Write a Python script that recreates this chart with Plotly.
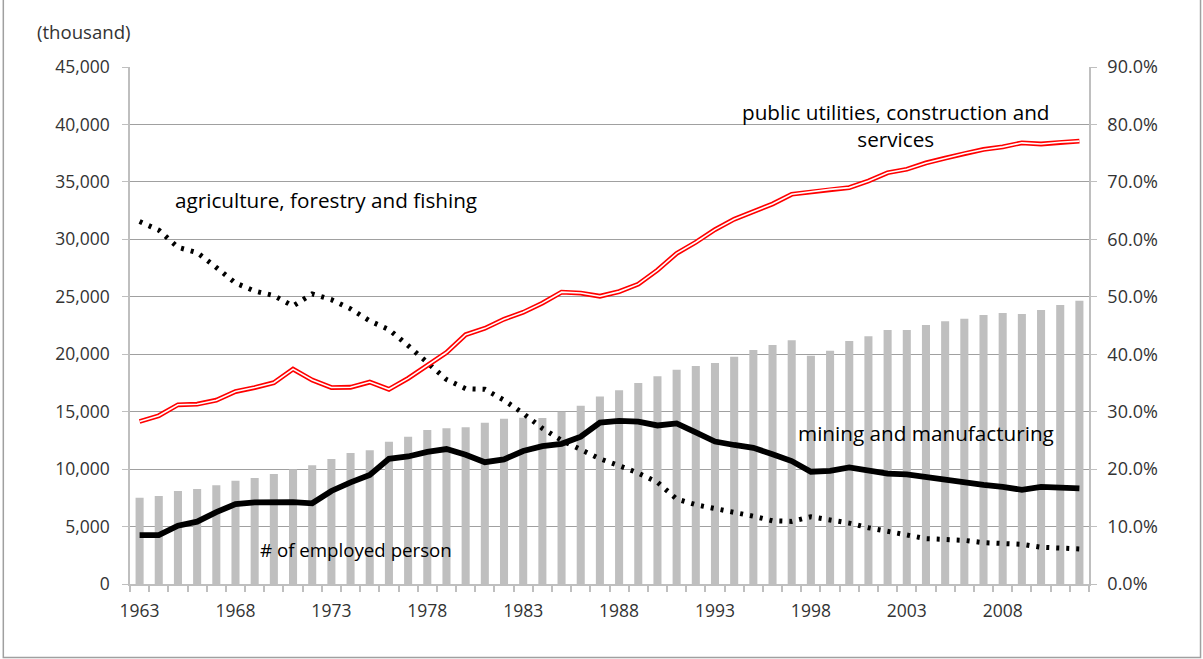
import plotly.graph_objects as go

years = list(range(1963, 2013))

employed = [7500, 7660, 8095, 8270, 8590, 8990, 9230, 9575, 9980, 10330,
            10880, 11400, 11640, 12390, 12820, 13400, 13550, 13640, 14040, 14390,
            14480, 14450, 15000, 15520, 16330, 16860, 17500, 18080, 18650, 18975,
            19235, 19785, 20370, 20800, 21220, 19870, 20310, 21150, 21560, 22110,
            22110, 22540, 22860, 23090, 23410, 23590, 23500, 23850, 24280, 24660]

agriculture = [63.1, 61.6, 58.6, 57.7, 55.1, 52.4, 51.0, 50.2, 48.4, 50.5,
               49.5, 47.9, 45.8, 44.3, 41.5, 38.6, 35.6, 34.0, 33.9, 32.0,
               29.7, 27.1, 25.0, 23.4, 21.8, 20.6, 19.3, 17.7, 14.8, 13.8,
               13.2, 12.4, 11.8, 11.0, 10.9, 11.7, 11.2, 10.6, 9.8, 9.2,
               8.7, 7.9, 7.75, 7.6, 7.2, 7.0, 6.9, 6.4, 6.2, 6.1]

mining = [8.5, 8.5, 10.15, 10.85, 12.5, 13.9, 14.2, 14.27, 14.27, 14.05,
          16.2, 17.7, 19.0, 21.8, 22.2, 23.0, 23.5, 22.5, 21.2, 21.7,
          23.15, 24.0, 24.4, 25.65, 28.1, 28.4, 28.25, 27.6, 27.95, 26.4,
          24.8, 24.2, 23.7, 22.6, 21.4, 19.55, 19.7, 20.3, 19.85, 19.2,
          19.1, 18.6, 18.05, 17.6, 17.25, 16.9, 16.4, 16.9, 16.9, 16.65]

services = [28.3, 29.3, 31.2, 31.3, 32.0, 33.5, 34.2, 35.05, 37.4, 35.5,
            34.2, 34.25, 35.15, 33.9, 35.8, 38.1, 40.3, 43.4, 44.5, 46.1,
            47.3, 48.9, 50.8, 50.65, 50.1, 50.9, 52.2, 54.65, 57.55, 59.5,
            61.7, 63.5, 64.8, 66.15, 67.85, 68.3, 68.7, 69.0, 70.15, 71.6,
            72.2, 73.3, 74.15, 74.95, 75.65, 76.1, 76.8, 76.6, 76.9, 77.1]

label_years = [1963, 1968, 1973, 1978, 1983, 1988, 1993, 1998, 2003, 2008]
left_ticks = list(range(0, 45001, 5000))
right_ticks = list(range(0, 91, 10))

FONT = "Open Sans"
TICK_COLOR = "#333333"
GRID = "#A0A0A0"
AXIS = "#BFBFBF"
ANN = 20.7

fig = go.Figure()

fig.add_trace(go.Bar(x=years, y=employed, marker=dict(color="#BFBFBF", line=dict(width=0)),
                     width=0.42, name="# of employed person"))

fig.add_trace(go.Scatter(x=years, y=agriculture, yaxis="y2", mode="lines",
                         line=dict(color="black", width=5, dash="3px,7px"),
                         name="agriculture, forestry and fishing"))

fig.add_trace(go.Scatter(x=years, y=mining, yaxis="y2", mode="lines",
                         line=dict(color="black", width=5.8),
                         name="mining and manufacturing"))

fig.add_trace(go.Scatter(x=years, y=services, yaxis="y2", mode="lines",
                         line=dict(color="#FF0000", width=4.8),
                         name="public utilities, construction and services"))
fig.add_trace(go.Scatter(x=years, y=services, yaxis="y2", mode="lines",
                         line=dict(color="white", width=1.6),
                         showlegend=False, hoverinfo="skip"))

annotations = [
    dict(text="(thousand)", xref="paper", yref="paper", x=-0.099, y=1.0696,
         xanchor="left", yanchor="middle", showarrow=False,
         font=dict(size=18.6, color=TICK_COLOR, family=FONT)),
    dict(text="agriculture, forestry and fishing", xref="x", yref="y", x=1964.74, y=33424,
         xanchor="left", yanchor="middle", showarrow=False,
         font=dict(size=ANN, color="black", family=FONT)),
    dict(text="public utilities, construction and<br>services", xref="x", yref="y",
         x=2002.44, y=39950, xanchor="center", yanchor="middle", align="center",
         showarrow=False, font=dict(size=ANN, color="black", family=FONT)),
    dict(text="mining and manufacturing", xref="x", yref="y", x=1997.22, y=13143,
         xanchor="left", yanchor="middle", showarrow=False,
         font=dict(size=ANN, color="black", family=FONT)),
    dict(text="# of employed person", xref="x", yref="y", x=1969.17, y=3046,
         xanchor="left", yanchor="middle", showarrow=False,
         font=dict(size=18.7, color="black", family=FONT)),
]

fig.update_layout(
    width=1203, height=659,
    margin=dict(l=130, r=114, t=67, b=75),
    paper_bgcolor="white", plot_bgcolor="white",
    showlegend=False,
    font=dict(family=FONT, size=17.5, color=TICK_COLOR),
    xaxis=dict(
        range=[1962.5, 2012.5], tickmode="array", tickvals=label_years,
        ticktext=[str(y) for y in label_years], ticks="", showgrid=False,
        showline=True, linecolor=AXIS, linewidth=1.5, zeroline=False,
        tickfont=dict(size=17.5, color=TICK_COLOR), ticklabelstandoff=10,
        minor=dict(tickmode="linear", tick0=1962.5, dtick=1, ticks="outside",
                   ticklen=6, tickcolor=AXIS, tickwidth=1.5, showgrid=False),
    ),
    yaxis=dict(
        range=[0, 45000], tickmode="array", tickvals=left_ticks,
        tickformat=",", showgrid=True, gridcolor=GRID, gridwidth=1.3,
        showline=True, linecolor=AXIS, linewidth=1.5, ticks="outside",
        ticklen=6, tickcolor=AXIS, zeroline=False,
        tickfont=dict(size=17.5, color=TICK_COLOR), ticklabelstandoff=9,
    ),
    yaxis2=dict(
        range=[0, 90], overlaying="y", side="right", tickmode="array",
        tickvals=right_ticks, ticktext=[f"{v:.1f}%" for v in right_ticks],
        showgrid=False, showline=True, linecolor=AXIS, linewidth=1.5,
        ticks="outside", ticklen=6, tickcolor=AXIS, zeroline=False,
        tickfont=dict(size=18, color=TICK_COLOR), ticklabelstandoff=7,
    ),
    annotations=annotations,
    shapes=[dict(type="rect", xref="paper", yref="paper",
                 x0=-0.1321, x1=1.1163, y0=-0.1422, y1=1.2,
                 line=dict(color="#A0A0A0", width=1.5))],
)

fig.write_html(
    "out.html",
    config={"displayModeBar": False},
    post_script="document.body.style.margin='0';document.body.style.overflow='hidden';",
)
